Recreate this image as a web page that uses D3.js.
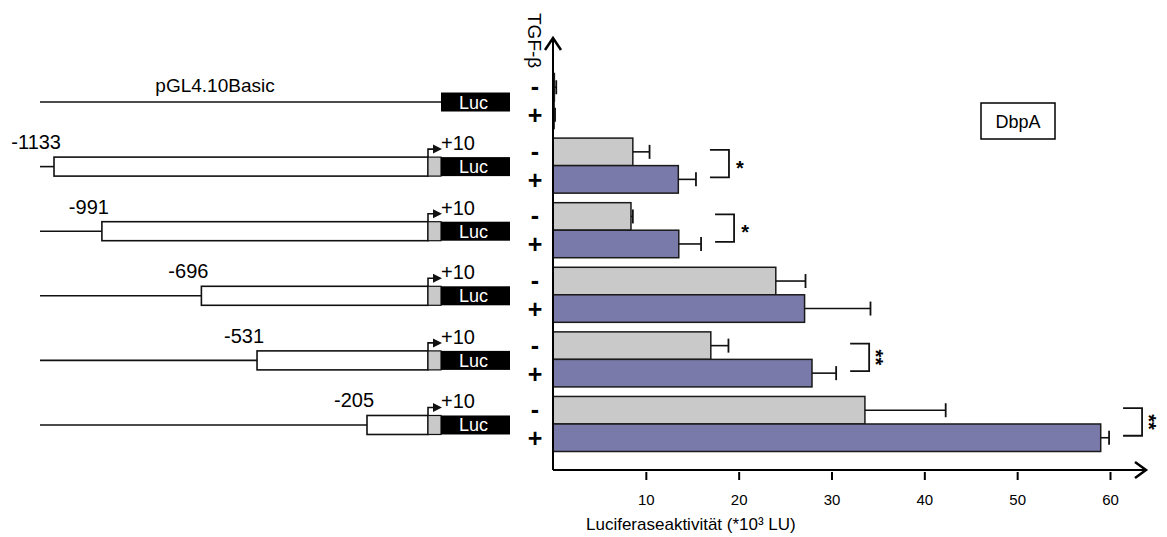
<!DOCTYPE html>
<html>
<head>
<meta charset="utf-8">
<script src="https://cdn.jsdelivr.net/npm/d3@7"></script>
<style>
  body { margin: 0; background: #fff; }
  svg { display: block; font-family: "Liberation Sans", Arial, sans-serif; }
</style>
</head>
<body>
<div id="chart"></div>
<script>
// Promoter constructs (row order, top to bottom)
const constructs = ["pGL4.10Basic", "-1133", "-991", "-696", "-531", "-205"];
const startBp = [null, -1133, -991, -696, -531, -205];
const treatments = ["-", "+"];

// Luciferase activity (*10^3 LU), mean and error
const minusMean = [0.15, 8.6, 8.4, 24.0, 17.0, 33.6];
const minusErr = [0.2, 1.8, 0.2, 3.2, 1.9, 8.7];
const plusMean = [0.12, 13.5, 13.55, 27.1, 27.9, 59.0];
const plusErr = [0.1, 1.9, 2.4, 7.1, 2.6, 0.9];
const significance = ["", "*", "*", "", "**", "**"];
const xTicks = [10, 20, 30, 40, 50, 60];

const width = 1167, height = 537;
const grey = "#c9c9c9", blue = "#7a7aaa";

const svg = d3.select("#chart").append("svg")
  .attr("width", width).attr("height", height);

// scales
const x = d3.scaleLinear().domain([0, 60]).range([553, 1110]);
const y = d3.scaleBand().domain(d3.range(constructs.length))
  .range([73.5, 451.5]).paddingInner(0.148);
const yt = d3.scaleBand().domain(treatments).range([0, y.bandwidth()]);
const bp = d3.scaleLinear().domain([-1133, -205]).range([54, 367]);

const axisY = 470;

// ---- bars ----
const rows = constructs.map((c, i) => [
  { row: i, t: "-", mean: minusMean[i], err: minusErr[i] },
  { row: i, t: "+", mean: plusMean[i], err: plusErr[i] }
]).flat();

const barG = svg.append("g");
barG.selectAll("rect").data(rows).join("rect")
  .attr("x", x(0))
  .attr("y", d => y(d.row) + yt(d.t))
  .attr("width", d => x(d.mean) - x(0))
  .attr("height", yt.bandwidth())
  .attr("fill", d => d.t === "-" ? grey : blue)
  .attr("stroke", "#1a1a1a").attr("stroke-width", 1.5);

// error bars
const cy = d => y(d.row) + yt(d.t) + yt.bandwidth() / 2;
barG.selectAll("line.err").data(rows).join("line").attr("class", "err")
  .attr("x1", d => x(d.mean)).attr("x2", d => x(d.mean + d.err))
  .attr("y1", cy).attr("y2", cy)
  .attr("stroke", "#111").attr("stroke-width", 1.6);
barG.selectAll("line.cap").data(rows).join("line").attr("class", "cap")
  .attr("x1", d => x(d.mean + d.err)).attr("x2", d => x(d.mean + d.err))
  .attr("y1", d => cy(d) - 7).attr("y2", d => cy(d) + 7)
  .attr("stroke", "#111").attr("stroke-width", 1.8);

// treatment labels
svg.append("g").selectAll("text").data(rows).join("text")
  .attr("x", 535)
  .attr("y", d => cy(d) + (d.t === "+" ? 9.5 : 8))
  .attr("text-anchor", "middle")
  .attr("font-size", 25).attr("font-weight", "bold")
  .text(d => d.t);

// ---- axes ----
svg.append("line")
  .attr("x1", x(0)).attr("x2", x(0)).attr("y1", axisY).attr("y2", 38)
  .attr("stroke", "#000").attr("stroke-width", 2);
svg.append("path")
  .attr("d", `M${x(0) - 8},50L${x(0)},38L${x(0) + 8},50`)
  .attr("fill", "none").attr("stroke", "#000").attr("stroke-width", 2.5);
svg.append("line")
  .attr("x1", x(0)).attr("x2", 1146).attr("y1", axisY).attr("y2", axisY)
  .attr("stroke", "#000").attr("stroke-width", 2);
svg.append("path")
  .attr("d", `M1135,${axisY - 8}L1146,${axisY}L1135,${axisY + 8}`)
  .attr("fill", "none").attr("stroke", "#000").attr("stroke-width", 2.5);

const xAxis = svg.append("g")
  .attr("transform", `translate(0,${axisY + 2})`)
  .call(d3.axisBottom(x).tickValues(xTicks).tickSize(8).tickPadding(14));
xAxis.select(".domain").remove();
xAxis.selectAll(".tick line").attr("stroke", "#000").attr("stroke-width", 2);
xAxis.selectAll(".tick text")
  .attr("font-size", 15).attr("fill", "#000")
  .style("font-family", '"Liberation Sans", Arial, sans-serif');

svg.append("text")
  .attr("x", 586).attr("y", 530)
  .attr("font-size", 17)
  .text("Luciferaseaktivität (*10³ LU)");

svg.append("text")
  .attr("transform", "translate(528,13) rotate(90)")
  .attr("font-size", 19)
  .text("TGF-β");

// legend box
svg.append("rect")
  .attr("x", 981).attr("y", 103).attr("width", 74).attr("height", 36)
  .attr("fill", "#fff").attr("stroke", "#000").attr("stroke-width", 1.5);
svg.append("text")
  .attr("x", 1018).attr("y", 128)
  .attr("text-anchor", "middle").attr("font-size", 18)
  .text("DbpA");

// ---- significance brackets ----
constructs.forEach((c, i) => {
  if (!significance[i]) return;
  const top = y(i) + yt("-") + yt.bandwidth() / 2 - 2;
  const bot = y(i) + yt("+") + yt.bandwidth() / 2 - 2;
  const bx = x(Math.max(minusMean[i] + minusErr[i], plusMean[i] + plusErr[i])) + 14;
  svg.append("path")
    .attr("d", `M${bx},${top}H${bx + 19}V${bot}H${bx}`)
    .attr("fill", "none").attr("stroke", "#111").attr("stroke-width", 1.8);
  const sx = bx + 30, sy = (top + bot) / 2;
  if (significance[i].length === 1) {
    svg.append("text")
      .attr("x", sx).attr("y", sy + 11)
      .attr("text-anchor", "middle").attr("font-size", 20).attr("font-weight", "bold")
      .text(significance[i]);
  } else {
    svg.append("text")
      .attr("transform", `translate(${sx},${sy}) rotate(90)`)
      .attr("y", 11)
      .attr("text-anchor", "middle").attr("font-size", 20).attr("font-weight", "bold")
      .text(significance[i]);
  }
});

// ---- promoter construct diagrams ----
const lineStart = 40, tss = 428, utrEnd = 441, lucEnd = 510, boxH = 19;
const diag = svg.append("g");
constructs.forEach((c, i) => {
  const mid = y(i) + y.bandwidth() / 2 + 1;
  const g = diag.append("g");
  if (startBp[i] === null) {
    g.append("line").attr("x1", lineStart).attr("x2", utrEnd)
      .attr("y1", mid).attr("y2", mid).attr("stroke", "#111").attr("stroke-width", 1.6);
    g.append("text").attr("x", 215).attr("y", mid - 10)
      .attr("text-anchor", "middle").attr("font-size", 19).text(c);
  } else {
    const sx = bp(startBp[i]);
    g.append("line").attr("x1", lineStart).attr("x2", sx)
      .attr("y1", mid).attr("y2", mid).attr("stroke", "#111").attr("stroke-width", 1.6);
    g.append("rect").attr("x", sx).attr("y", mid - boxH / 2)
      .attr("width", tss - sx).attr("height", boxH)
      .attr("fill", "#fff").attr("stroke", "#111").attr("stroke-width", 1.6);
    g.append("rect").attr("x", tss).attr("y", mid - boxH / 2)
      .attr("width", utrEnd - tss).attr("height", boxH)
      .attr("fill", grey).attr("stroke", "#111").attr("stroke-width", 1.2);
    // transcription start arrow
    const ay = mid - boxH / 2 - 8;
    g.append("path").attr("d", `M${tss},${mid - boxH / 2}V${ay}H${utrEnd - 6}`)
      .attr("fill", "none").attr("stroke", "#111").attr("stroke-width", 1.6);
    g.append("path").attr("d", `M${utrEnd - 8},${ay - 4.5}L${utrEnd + 1},${ay}L${utrEnd - 8},${ay + 4.5}Z`)
      .attr("fill", "#111");
    g.append("text").attr("x", sx + 7).attr("y", mid - boxH / 2 - 8)
      .attr("text-anchor", "end").attr("font-size", 20).text(c);
    g.append("text").attr("x", utrEnd).attr("y", mid - boxH / 2 - 7)
      .attr("font-size", 20).text("+10");
  }
  g.append("rect").attr("x", utrEnd).attr("y", mid - boxH / 2)
    .attr("width", lucEnd - utrEnd).attr("height", boxH).attr("fill", "#000");
  g.append("text").attr("x", (utrEnd + lucEnd) / 2 - 2).attr("y", mid + 6.5)
    .attr("text-anchor", "middle").attr("font-size", 18).attr("fill", "#fff")
    .text("Luc");
});
</script>
</body>
</html>
